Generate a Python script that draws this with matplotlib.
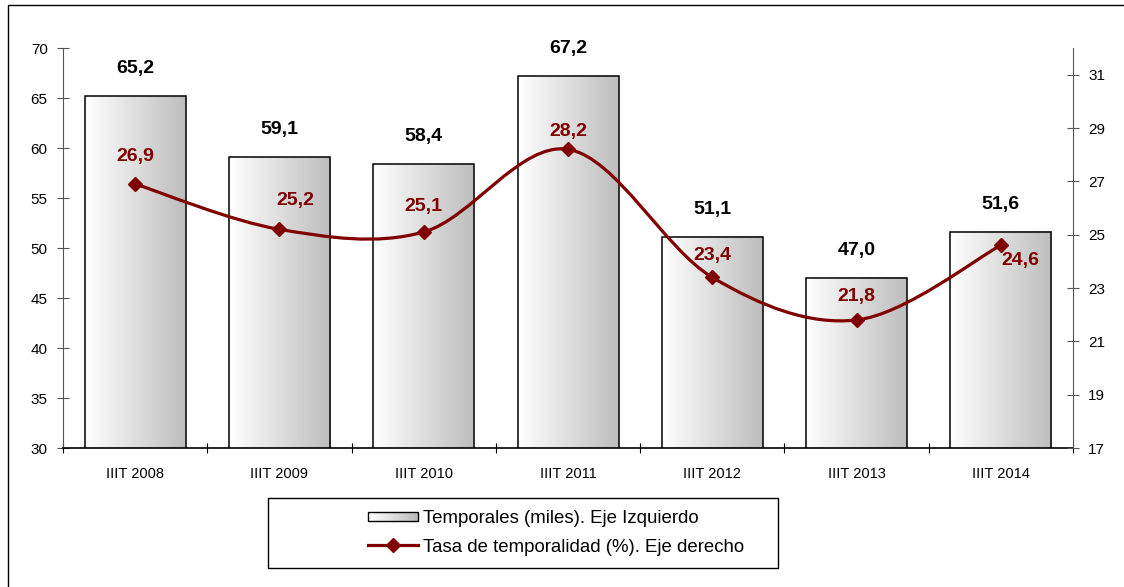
import numpy as np
import matplotlib
matplotlib.use('Agg')
import matplotlib.pyplot as plt
from matplotlib.path import Path
from matplotlib.patches import PathPatch, Rectangle
from matplotlib.colors import LinearSegmentedColormap
from matplotlib.lines import Line2D
from matplotlib.legend_handler import HandlerBase

plt.rcParams['font.family'] = ['Liberation Sans', 'DejaVu Sans']

# data
periodos = ['IIIT 2008', 'IIIT 2009', 'IIIT 2010', 'IIIT 2011', 'IIIT 2012', 'IIIT 2013', 'IIIT 2014']
temporales = [65.2, 59.1, 58.4, 67.2, 51.1, 47.0, 51.6]
tasa = [26.9, 25.2, 25.1, 28.2, 23.4, 21.8, 24.6]

# label offsets for the red labels (pixels)
tasa_off = [(0, 28), (16, 29), (0, 25), (0, 18), (0, 22), (0, 23), (20, -15)]

rojo = '#800000'
gris = LinearSegmentedColormap.from_list('g', ['#ffffff', '#bdbdbd'])

fig = plt.figure(figsize=(11.24, 5.87), dpi=100)
ax = fig.add_axes([63/1124, 1-448/587, 1010/1124, 400/587])
ax2 = ax.twinx()

x = np.arange(len(periodos))
w = 0.7
grad = np.linspace(0, 1, 256).reshape(1, -1)
for xi, v in zip(x, temporales):
    ax.imshow(grad, extent=[xi - w/2, xi + w/2, 30, v], aspect='auto', cmap=gris, zorder=2)
ax.bar(x, temporales, width=w, bottom=0, facecolor='none', edgecolor='black', linewidth=1.1, zorder=3)
for xi, v in zip(x, temporales):
    ax.annotate(f'{v:.1f}'.replace('.', ','), (xi, v), xytext=(0, 20), textcoords='offset points',
                ha='center', va='center', fontsize=14, fontweight='bold', color='black')

ax.set_xlim(-0.5, len(periodos) - 0.5)
ax.set_ylim(30, 70)
ax.set_yticks(range(30, 71, 5))
ax.set_xticks(x)
ax.set_xticklabels(periodos, fontsize=10.5)
ax.set_xticks(np.arange(-0.5, len(periodos), 1), minor=True)
ax.tick_params(axis='x', which='major', length=0, pad=14)
ax.tick_params(axis='x', which='minor', direction='inout', length=7, width=0.8)
ax.tick_params(axis='y', direction='inout', length=8, width=0.8, labelsize=11, pad=7, color='#555555')
for s in ['top', 'right']:
    ax.spines[s].set_visible(False)
ax.spines['left'].set_color('#555555')
ax.spines['bottom'].set_linewidth(1.2)

# smoothed line (Excel-like bezier through the points)
pts = np.column_stack([x, tasa]).astype(float)
verts = [tuple(pts[0])]
codes = [Path.MOVETO]
n = len(pts)
for i in range(n - 1):
    p0 = pts[max(i - 1, 0)]
    p1 = pts[i]
    p2 = pts[i + 1]
    p3 = pts[min(i + 2, n - 1)]
    c1 = p1 + (p2 - p0) / 6
    c2 = p2 - (p3 - p1) / 6
    verts += [tuple(c1), tuple(c2), tuple(p2)]
    codes += [Path.CURVE4] * 3
ax2.add_patch(PathPatch(Path(verts, codes), facecolor='none', edgecolor=rojo, lw=2.3, zorder=4))
ax2.plot(x, tasa, linestyle='none', marker='D', markersize=7, color=rojo, zorder=5)
for xi, v, (dx, dy) in zip(x, tasa, tasa_off):
    ax2.annotate(f'{v:.1f}'.replace('.', ','), (xi, v), xytext=(dx*0.72, dy*0.72), textcoords='offset points',
                 ha='center', va='center', fontsize=14, fontweight='bold', color=rojo)

ax2.set_ylim(17, 32)
ax2.set_yticks(range(17, 32, 2))
ax2.tick_params(axis='y', direction='inout', length=8, width=0.8, labelsize=11, pad=7, color='#555555')
for s in ['top', 'left', 'bottom']:
    ax2.spines[s].set_visible(False)
ax2.spines['right'].set_color('#555555')


class GradHandler(HandlerBase):
    def create_artists(self, legend, orig, xd, yd, width, height, fontsize, trans):
        arts = []
        k = 20
        for j in range(k):
            r = Rectangle((xd + width*j/k, yd + height*0.15), width/k + 0.3, height*0.7,
                          facecolor=gris(j/(k-1)), edgecolor='none', transform=trans)
            arts.append(r)
        arts.append(Rectangle((xd, yd + height*0.15), width, height*0.7, facecolor='none',
                              edgecolor='black', lw=1, transform=trans))
        return arts


h_bar = Rectangle((0, 0), 1, 1)
h_line = Line2D([], [], color=rojo, lw=2.3, marker='D', markersize=7)
fig.legend([h_bar, h_line], ['Temporales (miles). Eje Izquierdo', 'Tasa de temporalidad (%). Eje derecho'],
           handler_map={h_bar: GradHandler()}, loc='center', bbox_to_anchor=(556/1124, 1-533/587),
           frameon=False, fontsize=13.4, handlelength=2.7, handletextpad=0.3, labelspacing=0.6)
fig.patches.append(Rectangle((268/1124, 1-568/587), 510/1124, 70/587, transform=fig.transFigure,
                             facecolor='none', edgecolor='black', lw=1))
fig.patches.append(Rectangle((8/1124, -0.1), 1.5, 1.1 - 5/587, transform=fig.transFigure,
                             facecolor='none', edgecolor='black', lw=1))

fig.savefig('out.png', dpi=100)
